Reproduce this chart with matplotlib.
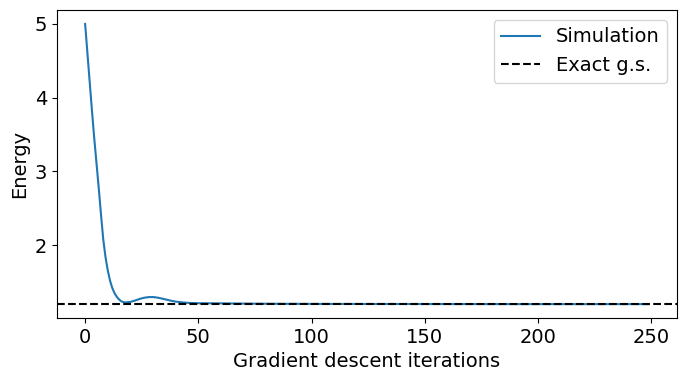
import matplotlib
matplotlib.use("Agg")
import matplotlib.pyplot as plt

# valeurs
iterations = [0, 1, 2, 3, 4, 5, 6, 7, 8, 9, 10, 11, 12, 13, 14, 15, 16, 17, 18,
              20, 22, 24, 26, 28, 30, 32, 34, 36, 38, 40, 43, 46, 50, 55, 60,
              70, 80, 100, 130, 160, 200, 249]
energie = [5.0, 4.61, 4.22, 3.83, 3.46, 3.12, 2.78, 2.42, 2.08, 1.84, 1.66,
           1.52, 1.42, 1.35, 1.3, 1.265, 1.24, 1.228, 1.225,
           1.232, 1.25, 1.272, 1.288, 1.297, 1.298, 1.29, 1.277, 1.262, 1.248,
           1.236, 1.225, 1.218, 1.214, 1.213, 1.212,
           1.209, 1.207, 1.205, 1.204, 1.203, 1.202, 1.202]
exact_gs = 1.2

plt.rcParams['font.size'] = 14
fig, ax = plt.subplots(figsize=(6.86, 3.81), dpi=100)
fig.subplots_adjust(left=0.083, right=0.987, top=0.974, bottom=0.165)

ax.plot(iterations, energie, color='#1f77b4', label='Simulation')
ax.axhline(exact_gs, color='black', linestyle='--', label='Exact g.s.')
ax.set_xlabel('Gradient descent iterations')
ax.set_ylabel('Energy')
ax.set_xticks([0, 50, 100, 150, 200, 250])
ax.set_yticks([2, 3, 4, 5])
ax.legend(loc='upper right')

fig.savefig('out.png', dpi=100)
